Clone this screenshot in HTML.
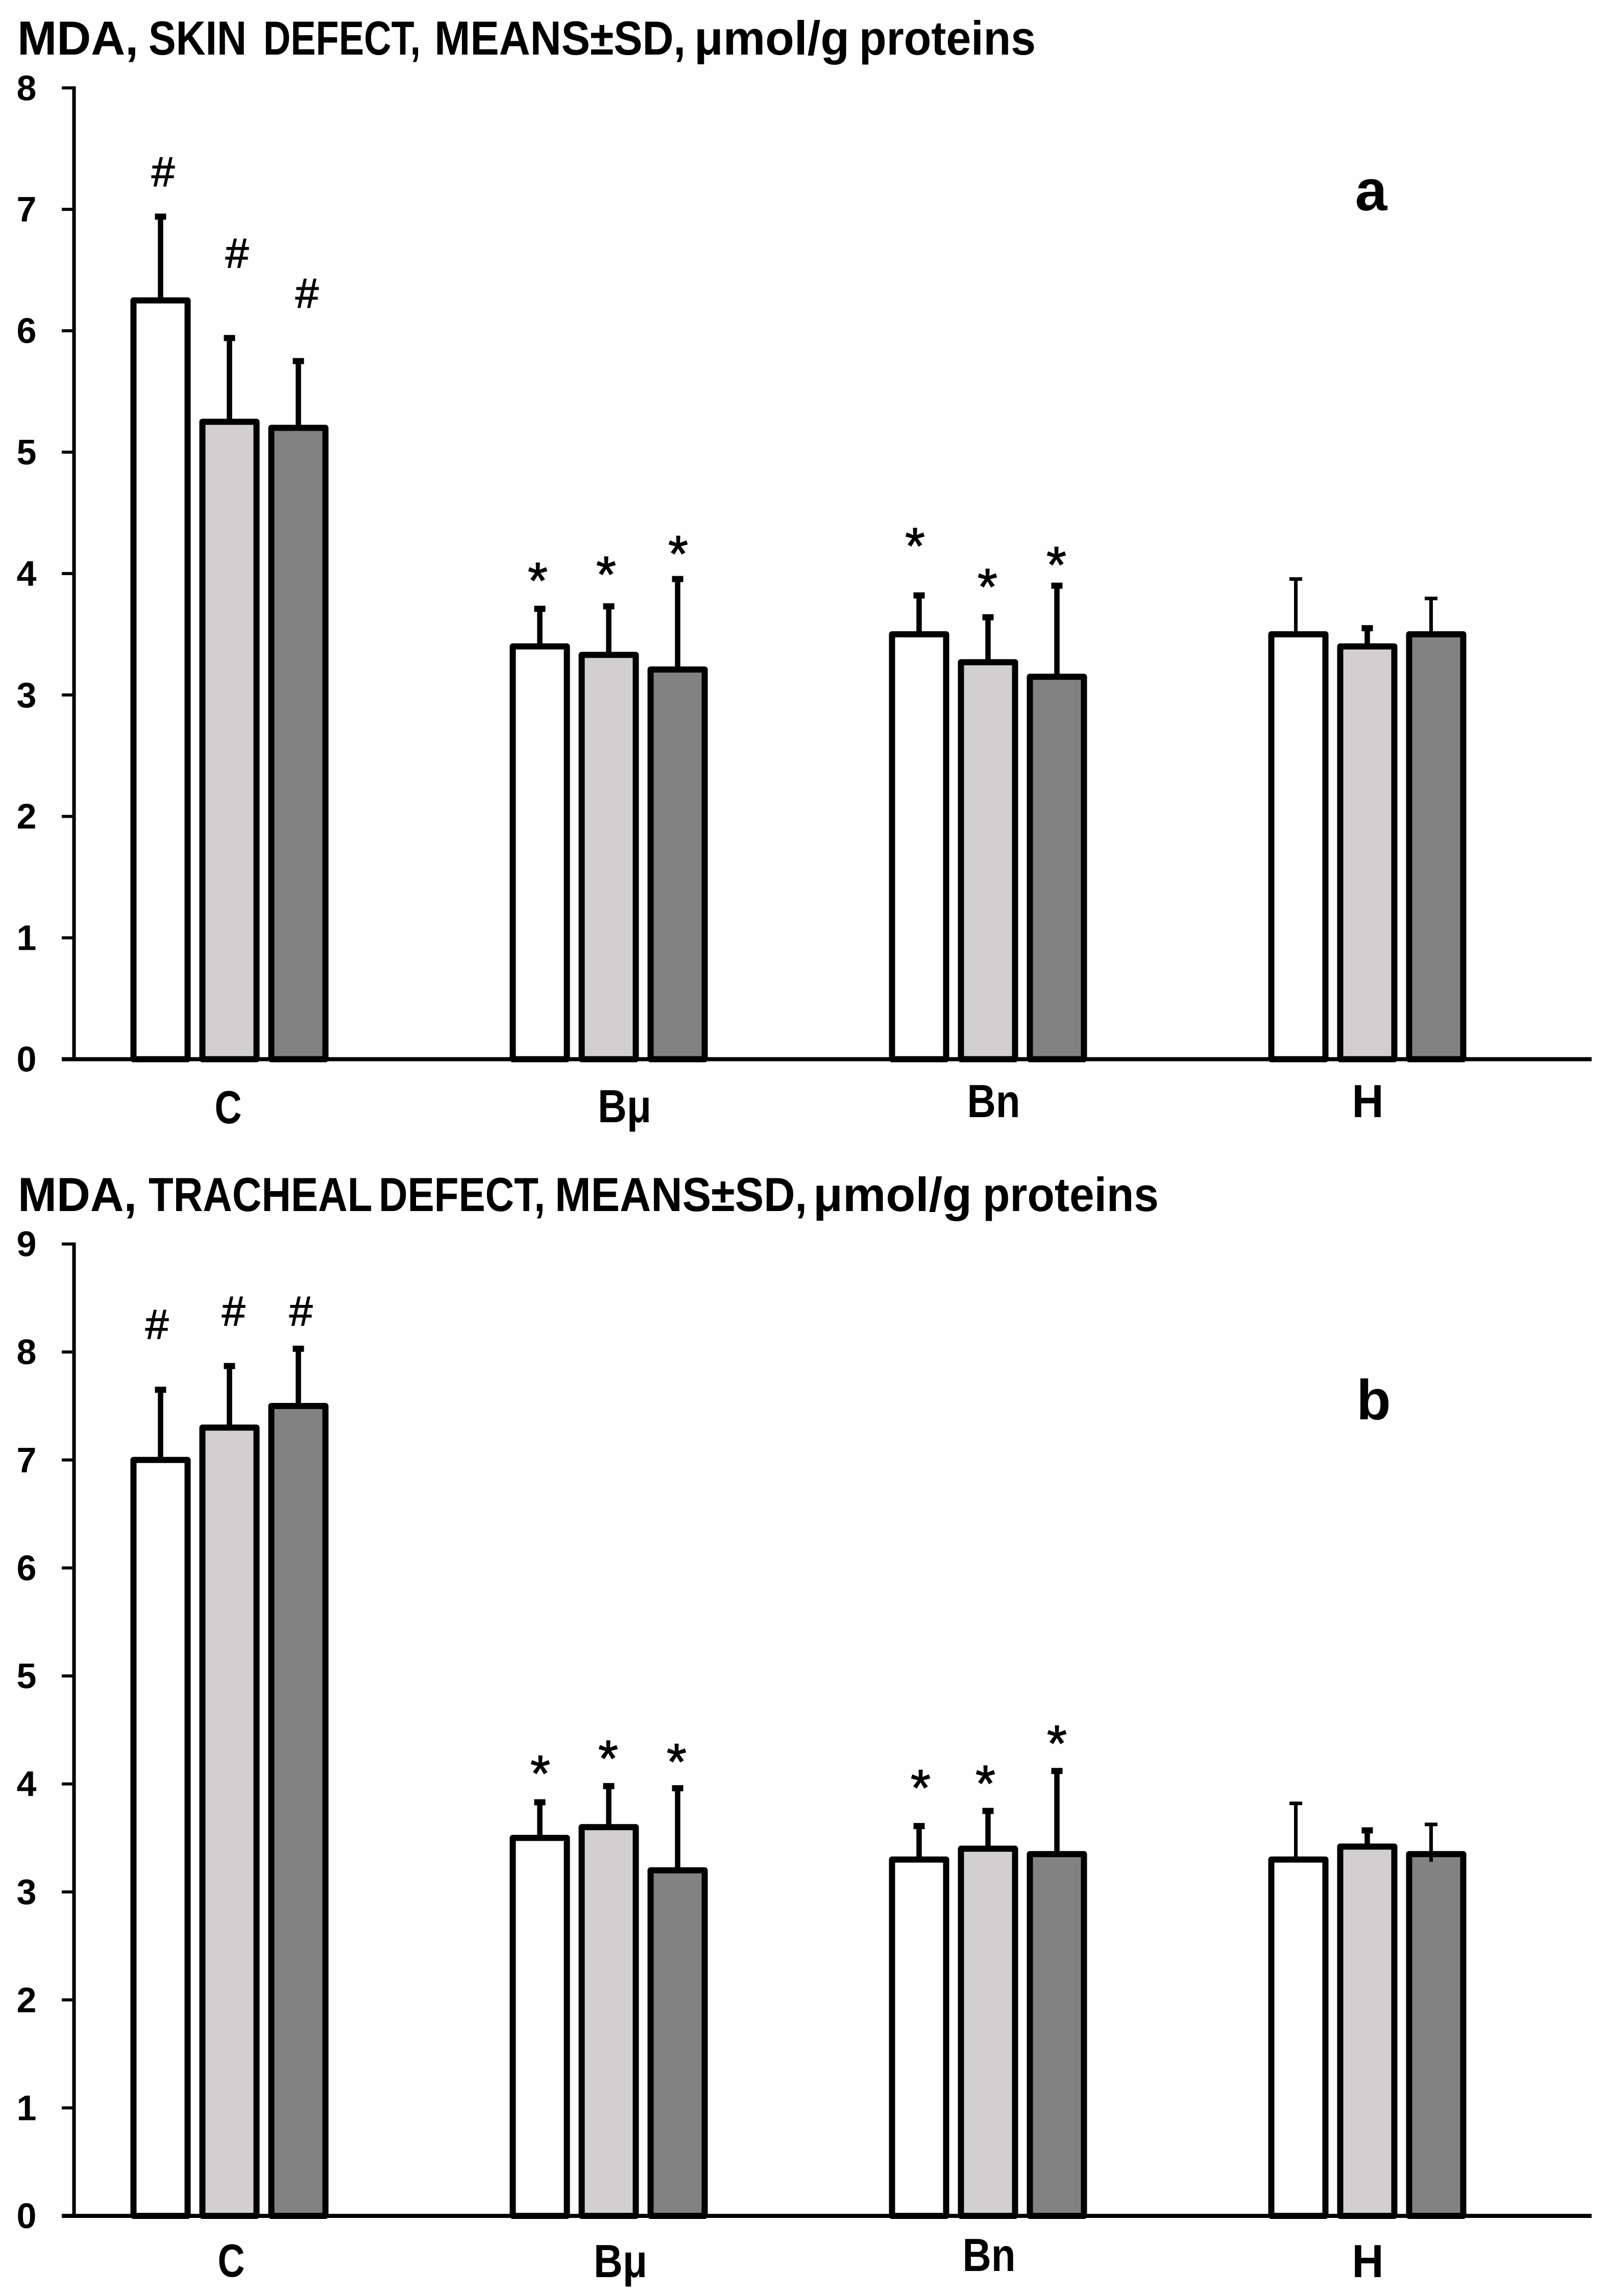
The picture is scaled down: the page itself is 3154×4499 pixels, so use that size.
<!DOCTYPE html>
<html lang="en">
<head>
<meta charset="utf-8">
<title>MDA means by group</title>
<style>
html,body{margin:0;padding:0;background:#fefefe;width:3154px;height:4499px;overflow:hidden}
svg{display:block}
text{font-family:"Liberation Sans",sans-serif;fill:#000}
.bold{font-weight:700}
</style>
</head>
<body>
<svg id="figure" xmlns="http://www.w3.org/2000/svg" width="3154" height="4499" viewBox="0 0 3154 4499">
  <rect width="3154" height="4499" fill="#fefefe"/>
  <g id="panel-a">
    <text class="bold" y="107" font-size="94" lengthAdjust="spacingAndGlyphs"><tspan x="34" textLength="237" lengthAdjust="spacingAndGlyphs">MDA,</tspan> <tspan x="291" textLength="192" lengthAdjust="spacingAndGlyphs">SKIN</tspan> <tspan x="516" textLength="308" lengthAdjust="spacingAndGlyphs">DEFECT,</tspan> <tspan x="851" textLength="492" lengthAdjust="spacingAndGlyphs">MEANS±SD,</tspan> <tspan x="1360" textLength="304" lengthAdjust="spacingAndGlyphs">μmol/g</tspan> <tspan x="1683" textLength="346" lengthAdjust="spacingAndGlyphs">proteins</tspan></text>
    <text class="bold" x="2686" y="412" font-size="113" text-anchor="middle">a</text>
  </g>
  <g id="panel-b">
    <text class="bold" y="2373" font-size="94" lengthAdjust="spacingAndGlyphs"><tspan x="35" textLength="233" lengthAdjust="spacingAndGlyphs">MDA,</tspan> <tspan x="291" textLength="437" lengthAdjust="spacingAndGlyphs">TRACHEAL</tspan> <tspan x="742" textLength="326" lengthAdjust="spacingAndGlyphs">DEFECT,</tspan> <tspan x="1087" textLength="494" lengthAdjust="spacingAndGlyphs">MEANS±SD,</tspan> <tspan x="1593" textLength="311" lengthAdjust="spacingAndGlyphs">μmol/g</tspan> <tspan x="1925" textLength="345" lengthAdjust="spacingAndGlyphs">proteins</tspan></text>
    <text class="bold" x="2691" y="2781" font-size="110" text-anchor="middle">b</text>
  </g>
</svg>
<script>
// ---- data ----
const categories = ["C", "Bμ", "Bn", "H"];
const seriesNames = ["series-1", "series-2", "series-3"];

const skinTicks = [0, 1, 2, 3, 4, 5, 6, 7, 8];
const skinMeansSeries1 = [6.25, 3.40, 3.50, 3.50];
const skinMeansSeries2 = [5.25, 3.33, 3.27, 3.40];
const skinMeansSeries3 = [5.20, 3.21, 3.15, 3.50];
const skinSdSeries1 = [0.69, 0.31, 0.32, 0.455];
const skinSdSeries2 = [0.69, 0.40, 0.37, 0.15];
const skinSdSeries3 = [0.55, 0.745, 0.75, 0.295];

const trachealTicks = [0, 1, 2, 3, 4, 5, 6, 7, 8, 9];
const trachealMeansSeries1 = [7.00, 3.50, 3.30, 3.30];
const trachealMeansSeries2 = [7.30, 3.60, 3.40, 3.42];
const trachealMeansSeries3 = [7.50, 3.20, 3.35, 3.35];
const trachealSdSeries1 = [0.65, 0.33, 0.31, 0.52];
const trachealSdSeries2 = [0.57, 0.38, 0.35, 0.15];
const trachealSdSeries3 = [0.53, 0.76, 0.77, 0.275];

const significanceMarks = ["#", "*", "*", ""];

// ---- layout (not data) ----
const fills = ["#ffffff", "#d2cfd0", "#828282"];
const NS = "http://www.w3.org/2000/svg";
const axisX = 145, tickLeft = 121, axisRight = 3118;
const groupStart = 449.5, groupStep = 743, barStep = 135, barWidth = 106, barStroke = 12;
// annotation lift above whisker top (value units) and sideways nudge, per category then series
const skinLift = [[.37,.70,.56],[.29,.32,.265],[.465,.31,.23]];
const skinNudge = [[5,15,17],[-4,-5,1],[-8,-1,-1]];
const trachealLift = [[.606,.51,.35],[.33,.32,.31],[.42,.32,.32]];
const trachealNudge = [[-7,8,5],[1,-1,-2],[3,-5,0]];
// category label placement per panel
const skinCatBaseline = [2201, 2199, 2189, 2189];
const skinCatNudge = [-2.5, 31, 11, 1];
const trachealCatBaseline = [4461, 4462, 4450, 4462];
const trachealCatNudge = [3.5, 23, 2, 1];
const catLength = [53, 105, 104, 62];

function mk(parent, tag, attrs, text) {
  const el = document.createElementNS(NS, tag);
  for (const k in attrs) el.setAttribute(k, attrs[k]);
  if (text !== undefined) el.textContent = text;
  parent.appendChild(el);
  return el;
}

function drawPanel(cfg) {
  const root = document.getElementById(cfg.id);
  const yOf = v => cfg.zeroY - v * cfg.unit;
  const maxTick = cfg.ticks[cfg.ticks.length - 1];
  const xOf = (g, s) => groupStart + g * groupStep + (s - 1) * barStep;

  // y axis
  let el = mk(root, "line", {x1: axisX, x2: axisX, y1: yOf(maxTick) - 3, y2: yOf(0), stroke: "#000", "stroke-width": 7});
  
  

  cfg.ticks.forEach(t => {
    const tick = mk(root, "line", {x1: tickLeft, x2: axisX, y1: yOf(t), y2: yOf(t), stroke: "#000", "stroke-width": 6});
    
    
    const label = mk(root, "text", {x: 52, y: yOf(t) + 24, "font-size": 70, "text-anchor": "middle", "class": "bold"}, String(t));
    
    
  });

  // bars
  categories.forEach((cat, g) => {
    cfg.means.forEach((series, s) => {
      const x = xOf(g, s) - barWidth / 2;
      const top = yOf(series[g]);
      const bar = mk(root, "rect", {x: x, y: top, width: barWidth, height: yOf(0) - top, fill: fills[s], stroke: "#000", "stroke-width": barStroke, "stroke-linejoin": "round"});
      
      
    });
  });

  // x axis
  el = mk(root, "line", {x1: tickLeft, x2: axisRight, y1: yOf(0), y2: yOf(0), stroke: "#000", "stroke-width": 8});
  
  

  // whiskers and significance marks
  categories.forEach((cat, g) => {
    cfg.means.forEach((series, s) => {
      const thin = g === 3 && s !== 1;
      const stemW = thin ? 7 : 10.5;
      const capW = thin ? 25 : 22;
      const capH = thin ? 7 : 12;
      const nudgeX = g === 3 ? (s === 0 ? -5 : s === 2 ? -10 : 0) : 0;
      const cx = xOf(g, s) + nudgeX;
      const topVal = series[g] + cfg.sds[s][g];
      const tail = (cfg.id === "panel-b" && g === 3 && s === 2) ? 15 : 0;
      const stem = mk(root, "line", {x1: cx, x2: cx, y1: yOf(topVal), y2: yOf(series[g]) + tail, stroke: "#000", "stroke-width": stemW});
      
      
      const cap = mk(root, "rect", {x: cx - capW / 2, y: yOf(topVal) - capH / 2, width: capW, height: capH, fill: "#000"});
      
      

      const mark = significanceMarks[g];
      if (mark) {
        const markCx = xOf(g, s) + cfg.nudge[g][s];
        const markCy = yOf(topVal + cfg.lift[g][s]);
        const size = mark === "#" ? 82 : 100;
        const drop = mark === "#" ? 0.35 * size : 0.48 * size;
        const note = mk(root, "text", {x: markCx, y: markCy + drop, "font-size": size, "text-anchor": "middle", stroke: "#000", "stroke-width": 1.5}, mark);
        
        
      }
    });

    const catLabel = mk(root, "text", {x: xOf(g, 1) + cfg.catNudge[g], y: cfg.catBaseline[g], "font-size": 91, "text-anchor": "middle", "class": "bold", textLength: catLength[g], lengthAdjust: "spacingAndGlyphs"}, cat);
    
    
  });
}

drawPanel({
  id: "panel-a", zeroY: 2075.5, unit: 237.9, ticks: skinTicks,
  means: [skinMeansSeries1, skinMeansSeries2, skinMeansSeries3],
  sds: [skinSdSeries1, skinSdSeries2, skinSdSeries3],
  lift: skinLift, nudge: skinNudge,
  catBaseline: skinCatBaseline, catNudge: skinCatNudge
});
drawPanel({
  id: "panel-b", zeroY: 4342, unit: 211.6, ticks: trachealTicks,
  means: [trachealMeansSeries1, trachealMeansSeries2, trachealMeansSeries3],
  sds: [trachealSdSeries1, trachealSdSeries2, trachealSdSeries3],
  lift: trachealLift, nudge: trachealNudge,
  catBaseline: trachealCatBaseline, catNudge: trachealCatNudge
});
</script>
</body>
</html>
